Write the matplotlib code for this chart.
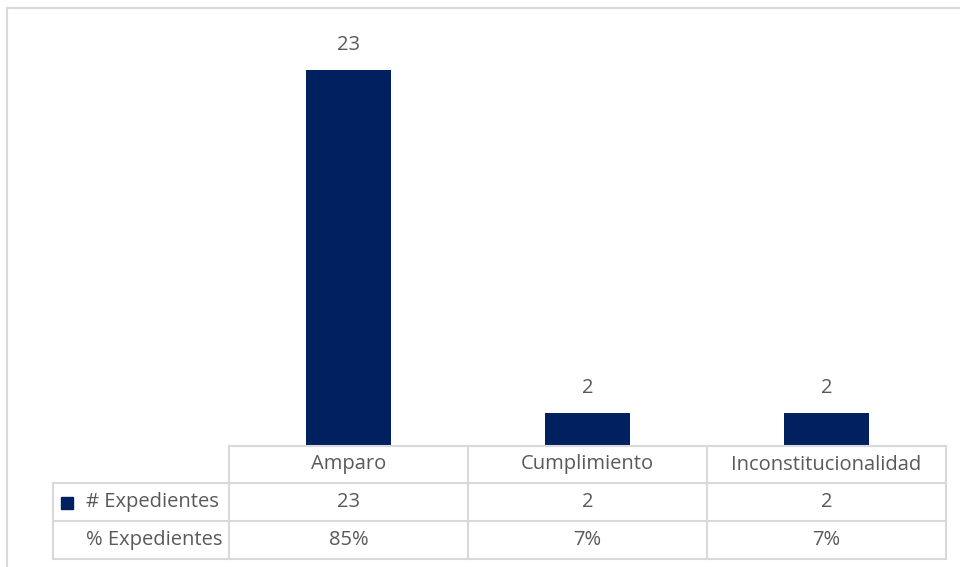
import matplotlib.pyplot as plt
from matplotlib.lines import Line2D
from matplotlib.patches import Rectangle

categorias = ['Amparo', 'Cumplimiento', 'Inconstitucionalidad']
expedientes = [23, 2, 2]
porcentajes = ['85%', '7%', '7%']
serie1 = '# Expedientes'
serie2 = '% Expedientes'

azul = '#002060'
gris_txt = '#595959'
gris_lin = '#D9D9D9'
plt.rcParams['font.family'] = ['Open Sans', 'DejaVu Sans']

W, H = 960, 567
fig = plt.figure(figsize=(9.6, 5.67), dpi=100)

def fx(px):
    return px / W

def fy(py):
    return 1 - py / H

# chart area border (only top/left visible)
fig.add_artist(Line2D([fx(7), fx(7)], [fy(8), 0], color=gris_lin, lw=1.5))
fig.add_artist(Line2D([fx(7), 1], [fy(8), fy(8)], color=gris_lin, lw=1.5))

# plot area
left, right, top, base = 229, 946, 37, 446
ax = fig.add_axes([fx(left), fy(base), fx(right - left), (base - top) / H])
x = range(len(categorias))
bars = ax.bar(x, expedientes, width=0.356, color=azul)
ax.set_xlim(-0.5, len(categorias) - 0.5)
ax.set_ylim(0, 25)
fs = 14.5
for b, v in zip(bars, expedientes):
    ax.annotate(str(v), (b.get_x() + b.get_width() / 2, v), xytext=(0, 25),
                textcoords='offset pixels', ha='center', va='center',
                fontsize=fs, color=gris_txt)
ax.axis('off')

# data table
rows = [446, 483, 521, 559]
cols = [229, 468, 707, 946]
lab_left = 53
lw = 1.5
fig.add_artist(Line2D([fx(cols[0]), fx(cols[-1])], [fy(rows[0])] * 2, color=gris_lin, lw=lw))
for r in rows[1:]:
    fig.add_artist(Line2D([fx(lab_left), fx(cols[-1])], [fy(r)] * 2, color=gris_lin, lw=lw))
for c in cols:
    fig.add_artist(Line2D([fx(c)] * 2, [fy(rows[0]), fy(rows[-1])], color=gris_lin, lw=lw))
fig.add_artist(Line2D([fx(lab_left)] * 2, [fy(rows[1]), fy(rows[-1])], color=gris_lin, lw=lw))

for i, cat in enumerate(categorias):
    cx = fx((cols[i] + cols[i + 1]) / 2)
    fig.text(cx, fy((rows[0] + rows[1]) / 2), cat, ha='center', va='center', fontsize=fs, color=gris_txt)
    fig.text(cx, fy((rows[1] + rows[2]) / 2), str(expedientes[i]), ha='center', va='center', fontsize=fs, color=gris_txt)
    fig.text(cx, fy((rows[2] + rows[3]) / 2), porcentajes[i], ha='center', va='center', fontsize=fs, color=gris_txt)

fig.add_artist(Rectangle((fx(61), fy(509)), fx(12), 12 / H, color=azul))
fig.text(fx(86), fy((rows[1] + rows[2]) / 2), serie1, ha='left', va='center', fontsize=fs, color=gris_txt)
fig.text(fx(222), fy((rows[2] + rows[3]) / 2), serie2, ha='right', va='center', fontsize=fs, color=gris_txt)

fig.savefig('out.png', dpi=100)
